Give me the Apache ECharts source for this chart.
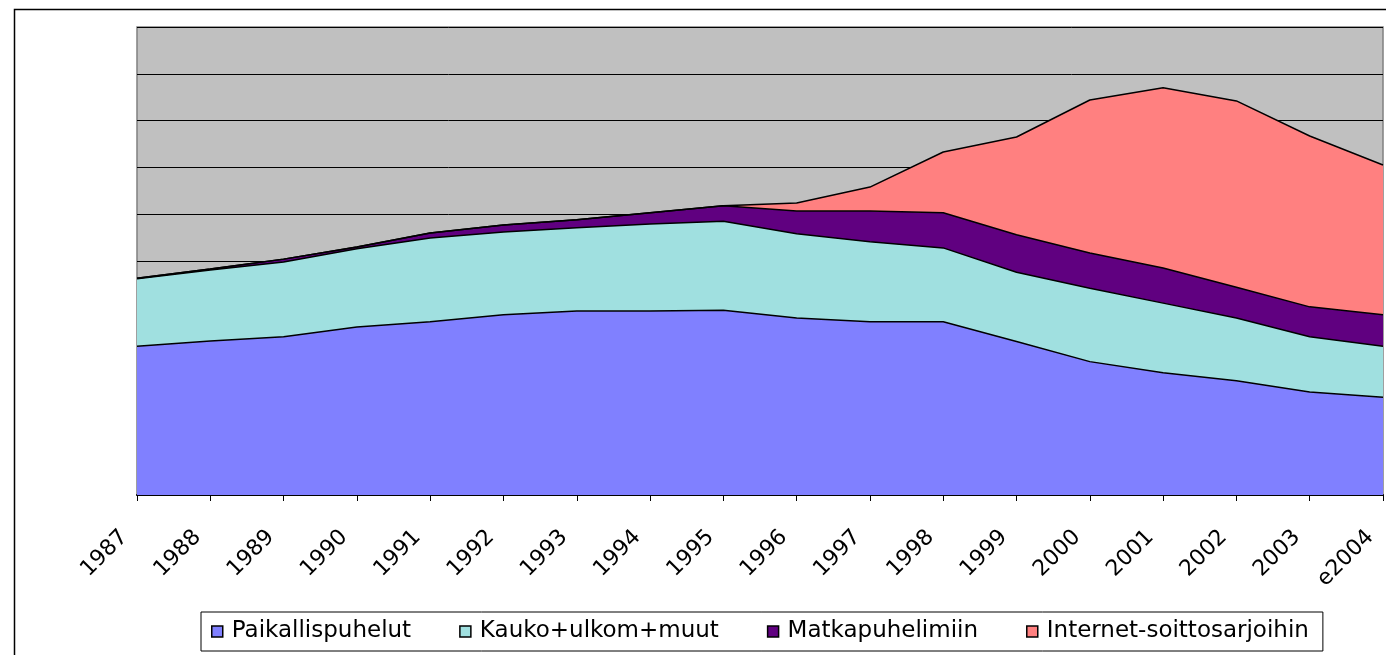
<!DOCTYPE html>
<html>
<head>
<meta charset="utf-8">
<script src="https://cdn.jsdelivr.net/npm/echarts@6/dist/echarts.min.js"></script>
<style>
  html, body { margin: 0; padding: 0; background: #fff; }
  #chart { width: 1386px; height: 655px; }
</style>
</head>
<body>
<div id="chart"></div>
<script>
// vuodet
var years = ['1987','1988','1989','1990','1991','1992','1993','1994','1995',
  '1996','1997','1998','1999','2000','2001','2002','2003','e2004'];

// sarjat (arvioitu kuvasta, pinottu)
var paikallis = [3.18,3.29,3.38,3.59,3.70,3.85,3.93,3.93,3.95,3.78,3.70,3.70,3.28,2.85,2.61,2.44,2.20,2.09];
var kauko     = [1.44,1.52,1.60,1.67,1.79,1.77,1.78,1.86,1.90,1.80,1.71,1.58,1.48,1.57,1.49,1.34,1.18,1.09];
var matka     = [0.01,0.02,0.06,0.04,0.11,0.15,0.17,0.24,0.33,0.49,0.66,0.75,0.80,0.75,0.75,0.66,0.64,0.67];
var internet  = [0,0,0,0,0,0,0,0,0,0.17,0.51,1.30,2.09,3.27,3.85,3.98,3.65,3.20];

var names = ['Paikallispuhelut','Kauko+ulkom+muut','Matkapuhelimiin','Internet-soittosarjoihin'];
var colors = ['#8080FF','#A0E0E0','#600080','#FF8080'];

var chart = echarts.init(document.getElementById('chart'));

function areaSeries(i, data) {
  return {
    name: names[i],
    type: 'line',
    stack: 'yht',
    data: data,
    symbol: 'none',
    itemStyle: { color: colors[i] },
    lineStyle: { color: '#000', width: 1.5 },
    areaStyle: { color: colors[i], opacity: 1 }
  };
}

chart.setOption({
  animation: false,
  textStyle: { fontFamily: 'DejaVu Sans, sans-serif' },
  graphic: [{
    type: 'rect',
    left: 12, top: 7,
    shape: { width: 1400, height: 700 },
    style: { fill: 'none', stroke: '#000', lineWidth: 1.5 },
    z: -10
  }],
  grid: {
    left: 137, top: 27, right: 3, bottom: 160,
    outerBoundsMode: 'none',
    containLabel: false,
    show: true,
    backgroundColor: '#C0C0C0',
    borderColor: '#808080',
    borderWidth: 1.5
  },
  legend: {
    left: 201, top: 612,
    padding: [8, 14, 8, 10],
    borderColor: '#000',
    borderWidth: 1,
    backgroundColor: '#fff',
    icon: 'rect',
    itemWidth: 11, itemHeight: 11,
    itemGap: 48,
    itemStyle: { borderColor: '#000', borderWidth: 1.5 },
    textStyle: { fontSize: 23, color: '#000', fontFamily: 'DejaVu Sans, sans-serif', padding: [0, 0, 0, 4] },
    data: names
  },
  xAxis: {
    type: 'category',
    boundaryGap: false,
    data: years,
    axisLine: { lineStyle: { color: '#000', width: 2 } },
    axisTick: { show: true, length: 6, lineStyle: { color: '#000', width: 1 } },
    axisLabel: {
      rotate: 45, fontSize: 22, color: '#000', margin: 26, interval: 0,
      padding: [0, 18, 0, 0],
      fontFamily: 'DejaVu Sans, sans-serif'
    },
    splitLine: { show: false }
  },
  yAxis: {
    type: 'value',
    min: 0, max: 10, interval: 1,
    axisLabel: { show: false },
    axisLine: { show: false },
    axisTick: { show: false },
    splitLine: { show: true, lineStyle: { color: '#000', width: 1 } }
  },
  series: [
    areaSeries(0, paikallis),
    areaSeries(1, kauko),
    areaSeries(2, matka),
    areaSeries(3, internet)
  ]
});
</script>
</body>
</html>
